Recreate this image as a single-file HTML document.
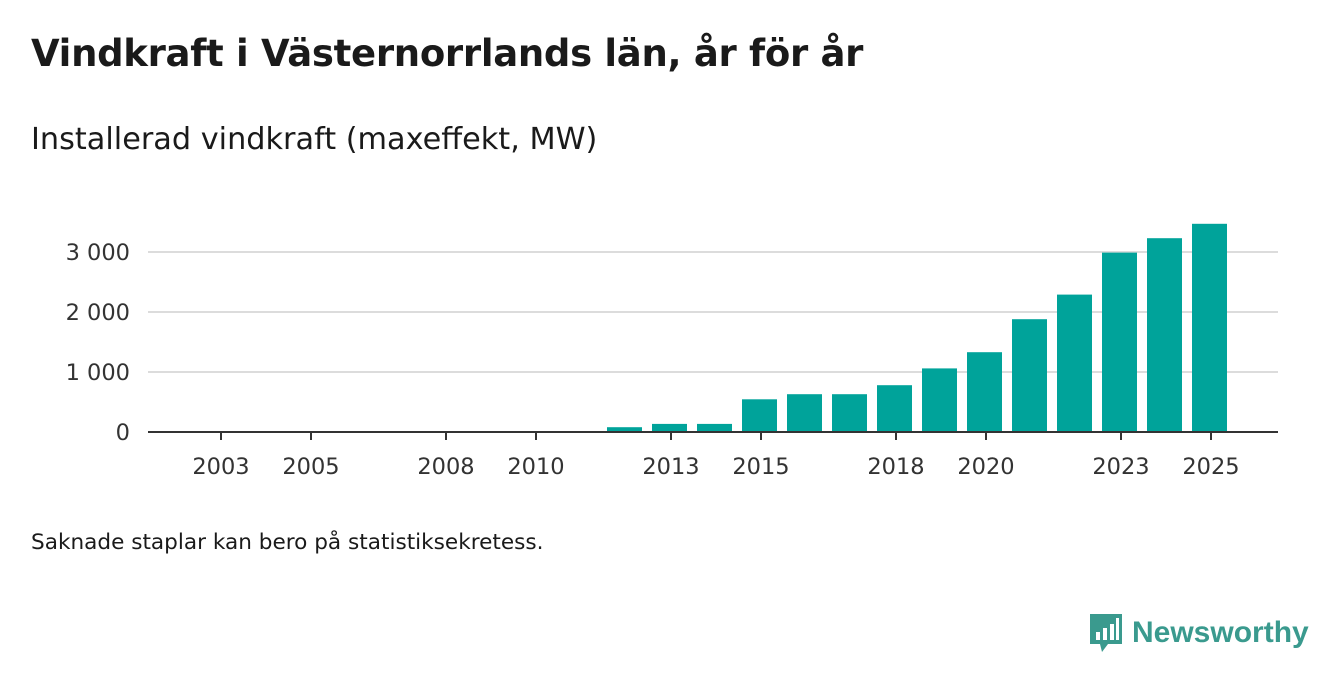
<!DOCTYPE html>
<html><head><meta charset="utf-8"><style>
body{margin:0;width:1340px;height:685px;background:#fff;font-family:"DejaVu Sans","Liberation Sans",sans-serif;overflow:hidden;position:relative;color:#1a1a1a}
.t{position:absolute;left:31px;top:32px;font-size:37px;font-weight:bold;margin:0;letter-spacing:-0.3px}
.s{position:absolute;left:31px;top:122px;font-size:30.3px}
.n{position:absolute;left:31px;top:530px;font-size:21.6px}
.logo{position:absolute;left:1088px;top:612px;display:flex;align-items:center}
.logo span{font-size:30px;font-weight:bold;color:#3a9a8e;margin-left:8px;font-family:"Liberation Sans",sans-serif}
</style></head><body>
<h1 class="t">Vindkraft i Västernorrlands län, år för år</h1>
<div class="s">Installerad vindkraft (maxeffekt, MW)</div>
<svg id="c" width="1340" height="685" style="position:absolute;left:0;top:0"></svg>
<div class="n">Saknade staplar kan bero på statistiksekretess.</div>
<div class="logo">
<svg width="36" height="42" viewBox="0 0 36 42"><path d="M2 2h32v30H20l-6 8-2-8H2z" fill="#3a9a8e"/><rect x="8" y="20" width="4" height="8" fill="#fff"/><rect x="15" y="16" width="4" height="12" fill="#fff"/><rect x="22" y="12" width="4" height="16" fill="#fff"/><rect x="28" y="6" width="3" height="22" fill="#fff"/></svg>
<span>Newsworthy</span></div>
<script>
const years=[2012,2013,2014,2015,2016,2017,2018,2019,2020,2021,2022,2023,2024,2025];
const values=[80,135,135,545,630,630,780,1060,1330,1880,2290,2990,3230,3470];
const tickYears=[2003,2005,2008,2010,2013,2015,2018,2020,2023,2025];
const yTicks=[0,1000,2000,3000];
const yLabels=["0","1 000","2 000","3 000"];
const NS="http://www.w3.org/2000/svg";
const svg=document.getElementById('c');
const x=y=>221+(y-2003)*45;
const yv=v=>432-v*0.06;
function mk(t,a){const e=document.createElementNS(NS,t);for(const k in a)e.setAttribute(k,a[k]);svg.appendChild(e);return e;}
yTicks.forEach((v,i)=>{
 if(v>0){const g=mk('line',{x1:148,x2:1278,y1:yv(v),y2:yv(v),stroke:'#dcdcdc','stroke-width':2});
 
 }
 const t=mk('text',{x:130,y:yv(v)+8,'text-anchor':'end','font-size':22.5,fill:'#333'});
 t.textContent=yLabels[i];
 
 
});
years.forEach((yr,i)=>{
 const r=mk('rect',{x:x(yr)-19,y:yv(values[i]),width:35,height:432-yv(values[i]),fill:'#00a39a'});
 
 
});
const ax=mk('line',{x1:148,x2:1278,y1:432,y2:432,stroke:'#333','stroke-width':2});


tickYears.forEach(yr=>{
 const l=mk('line',{x1:x(yr),x2:x(yr),y1:432,y2:440,stroke:'#333','stroke-width':2});
 
 
 const t=mk('text',{x:x(yr),y:474,'text-anchor':'middle','font-size':22.5,fill:'#333'});
 t.textContent=yr;
 
 
});
</script>
</body></html>
